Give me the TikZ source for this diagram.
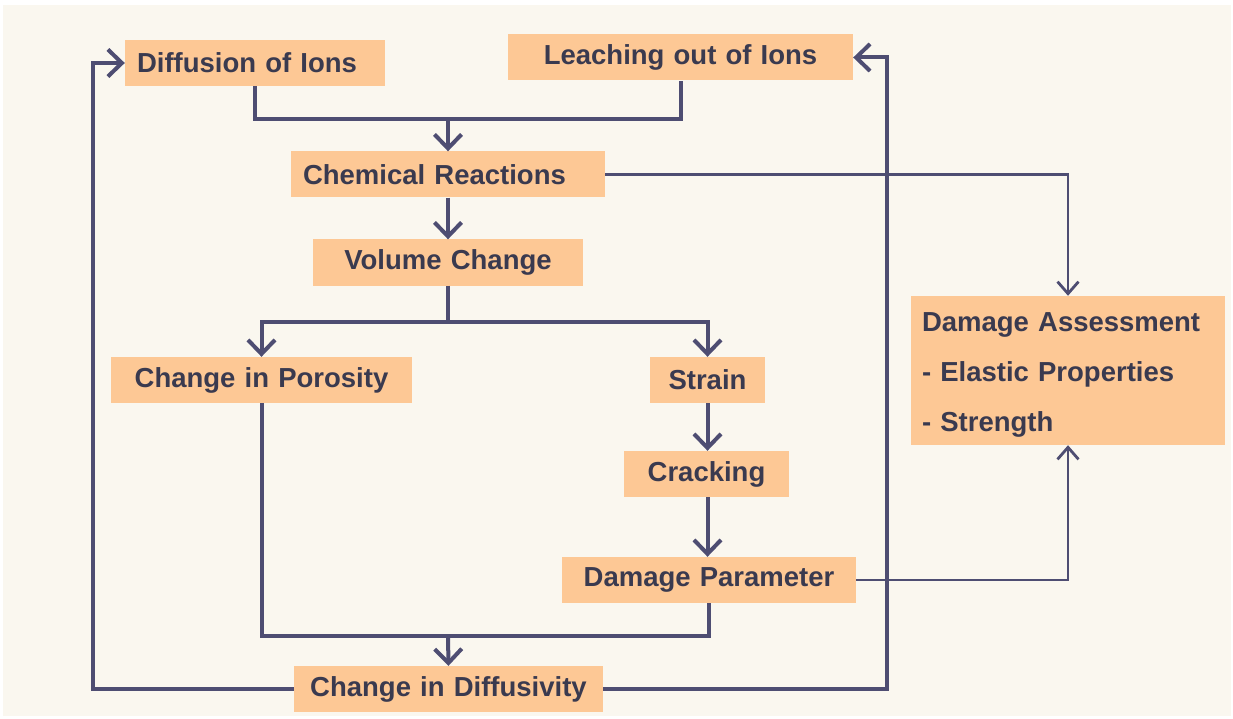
\documentclass[tikz,border=0pt]{standalone}
\usepackage{fontspec}
\setmainfont{Liberation Sans}
\usetikzlibrary{arrows.meta}
\definecolor{paper}{HTML}{FAF7EF}
\definecolor{peach}{HTML}{FDC895}
\definecolor{ink}{HTML}{3A3A4F}
\definecolor{wire}{HTML}{4E4D72}
\begin{document}
\begin{tikzpicture}[x=1pt,y=-1pt,
  box/.style={fill=peach, text=ink, font=\fontsize{27.5}{33}\selectfont\bfseries,
    inner xsep=12pt, inner ysep=0pt, minimum height=46pt},
  flow/.style={draw=wire, line width=4pt, -{Straight Barb[length=14pt,width=27pt]}},
  bus/.style={draw=wire, line width=4pt},
  thinflow/.style={draw=wire, line width=2.8pt, -{Straight Barb[length=12pt,width=21pt]}}]
% page and background panel
\fill[white] (0,0) rectangle (1233,719);
\fill[paper] (3,5) rectangle (1231,716);
\useasboundingbox (0,0) rectangle (1233,719);

% process boxes
\node[box, text width=236pt, align=left]   (dif)  at (255,63)    {Diffusion of Ions};
\node[box, text width=321pt, align=center] (lea)  at (680.5,57.5) {Leaching out of Ions};
\node[box, text width=290pt, align=left]   (chem) at (448,174.5) {Chemical Reactions};
\node[box, text width=246pt, align=center] (vol)  at (448,262.5) {Volume Change};
\node[box, text width=277pt, align=center] (por)  at (261.5,380) {Change in Porosity};
\node[box, text width=91pt,  align=center] (str)  at (707.5,380) {Strain};
\node[box, text width=141pt, align=center] (crk)  at (706.5,474) {Cracking};
\node[box, text width=270pt, align=center] (dpar) at (709,580)   {Damage Parameter};
\node[box, text width=285pt, align=center] (ddif) at (448.5,689) {Change in Diffusivity};
\node[box, inner xsep=11pt, text width=292pt, align=left, minimum height=149pt,
      font=\fontsize{27.5}{50}\selectfont\bfseries] (da) at (1068,370.5)
      {\rule{0pt}{28pt}Damage Assessment\\- Elastic Properties\\- Strength};

% junction points
\coordinate (j1) at (448,119);
\coordinate (j2) at (448,322);
\coordinate (j3) at (448,636);
\coordinate (fl) at (93,689);
\coordinate (fr) at (887,689);

% main chain
\draw[bus] (dif.south) |- (j1) -| (lea.south);
\draw[flow] (j1) -- (chem.north);
\draw[flow] (chem.south) -- (vol.north);
\draw[bus] (vol.south) -- (j2);
\draw[flow] (j2) -| (por.north);
\draw[flow] (j2) -| (str.north);
\draw[flow] (str.south) -- (str.south |- crk.north);
\draw[flow] (str.south |- crk.south) -- (str.south |- dpar.north);
\draw[bus] (por.south) |- (j3) -| (dpar.south);
\draw[flow] (j3) -- (ddif.north);

% feedback loops
\draw[flow] (ddif.west) -- (fl) |- (dif.west);
\draw[flow] (ddif.east) -- (fr) |- (lea.east);

% links to damage assessment
\draw[thinflow] (chem.east) -| (da.north);
\draw[thinflow] (dpar.east) -| (da.south);
\end{tikzpicture}
\end{document}
